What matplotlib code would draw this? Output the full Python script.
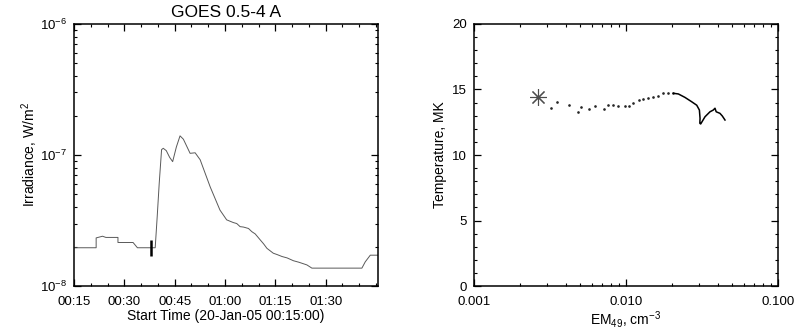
import numpy as np
import matplotlib
matplotlib.use("Agg")
import matplotlib.pyplot as plt
from matplotlib.ticker import FixedLocator, MultipleLocator, LogLocator, NullFormatter

plt.rcParams['font.family'] = ['Liberation Sans', 'DejaVu Sans']
plt.rcParams['mathtext.fontset'] = 'custom'
plt.rcParams['mathtext.rm'] = 'Liberation Sans'
plt.rcParams['mathtext.it'] = 'Liberation Sans:italic'

# GOES 0.5-4 A light curve, minutes after 00:15 UT
goes_min = [0, 6.6, 6.6, 8.5, 9.5, 13.1, 13.1, 17.6, 18.9, 24.2, 24.8, 25.4, 26.1, 26.6,
            27.5, 28.5, 29.4, 30.5, 31.6, 32.6, 34.6, 36.1, 37.6, 40.6, 43.5, 45.5,
            47.5, 48.5, 49.5, 50.5, 52.0, 53.0, 54.0, 55.5, 56.5, 57.5, 59.4, 60.5,
            62.0, 63.5, 65.4, 67.0, 69.4, 70.9, 85.8, 86.8, 88.3, 91.0]
goes_flux = [1.96e-8, 1.96e-8, 2.33e-8, 2.4e-8, 2.35e-8, 2.35e-8, 2.15e-8, 2.15e-8,
             1.96e-8, 1.96e-8, 3.4e-8, 6.1e-8, 1.1e-7, 1.125e-7, 1.08e-7, 9.6e-8,
             8.9e-8, 1.15e-7, 1.40e-7, 1.32e-7, 1.03e-7, 1.04e-7, 9.2e-8, 5.7e-8,
             3.8e-8, 3.2e-8, 3.05e-8, 3.0e-8, 2.84e-8, 2.82e-8, 2.75e-8, 2.6e-8,
             2.5e-8, 2.25e-8, 2.1e-8, 1.94e-8, 1.78e-8, 1.74e-8, 1.68e-8, 1.64e-8,
             1.56e-8, 1.52e-8, 1.45e-8, 1.37e-8, 1.37e-8, 1.53e-8, 1.72e-8, 1.72e-8]
start_min = 23.0
start_flux = 1.95e-8
time_ticks = [0, 15, 30, 45, 60, 75]
time_labels = ['00:15', '00:30', '00:45', '01:00', '01:15', '01:30']

# temperature vs emission measure
em_dots = [0.00321, 0.00353, 0.00422, 0.00481, 0.00506, 0.00571, 0.00625, 0.0072,
           0.00758, 0.00826, 0.0089, 0.00984, 0.0105, 0.0112, 0.0121, 0.013, 0.014,
           0.0151, 0.0163, 0.0176, 0.019, 0.0205]
temp_dots = [13.6, 14.05, 13.8, 13.3, 13.7, 13.5, 13.74, 13.5, 13.8, 13.84, 13.74,
             13.74, 13.74, 13.99, 14.2, 14.25, 14.33, 14.4, 14.5, 14.71, 14.71, 14.71]
em_line = [0.0205, 0.0221, 0.0244, 0.027, 0.0292, 0.0304, 0.0307, 0.0306, 0.031,
           0.0331, 0.0357, 0.0375, 0.0385, 0.0392, 0.0415, 0.043, 0.0448]
temp_line = [14.71, 14.66, 14.4, 14.07, 13.8, 13.43, 12.8, 12.42, 12.37, 12.92, 13.3,
             13.43, 13.57, 13.3, 13.18, 12.98, 12.67]
em_start = 0.00262
temp_start = 14.45

fig = plt.figure(figsize=(8, 3.33), dpi=100)
ax1 = fig.add_axes([0.0925, 0.141, 0.38, 0.787])
ax2 = fig.add_axes([0.5925, 0.141, 0.38, 0.787])

ax1.plot(goes_min, goes_flux, color='0.35', lw=0.7)
ax1.plot([start_min], [start_flux], marker='|', ms=11, mew=1.8, color='k', ls='none')
ax1.set_yscale('log')
ax1.set_ylim(1e-8, 1e-6)
ax1.set_xlim(0, 90.6)
ax1.xaxis.set_major_locator(FixedLocator(time_ticks))
ax1.set_xticklabels(time_labels)
ax1.xaxis.set_minor_locator(MultipleLocator(5))
ax1.yaxis.set_major_locator(FixedLocator([1e-8, 1e-7, 1e-6]))
ax1.set_yticklabels([r'$\mathregular{10^{-8}}$', r'$\mathregular{10^{-7}}$',
                     r'$\mathregular{10^{-6}}$'])
ax1.yaxis.set_minor_locator(LogLocator(base=10, subs=np.arange(2, 10)))
ax1.yaxis.set_minor_formatter(NullFormatter())
ax1.set_title('GOES 0.5-4 A', fontsize=12.5, pad=5)
ax1.set_xlabel('Start Time (20-Jan-05 00:15:00)', fontsize=10, labelpad=1)
ax1.set_ylabel(r'Irradiance, W/m$^2$', fontsize=10, labelpad=0)

ax2.plot(em_dots, temp_dots, ls='none', marker='o', ms=0.9, color='0.15')
ax2.plot(em_line, temp_line, color='k', lw=1.1)
ax2.plot([em_start], [temp_start], marker=(8, 2, 0), ms=12, mew=0.8, color='0.3', ls='none')
ax2.set_xscale('log')
ax2.set_xlim(0.001, 0.1)
ax2.set_ylim(0, 20)
ax2.xaxis.set_major_locator(FixedLocator([0.001, 0.01, 0.1]))
ax2.set_xticklabels(['0.001', '0.010', '0.100'])
ax2.xaxis.set_minor_locator(LogLocator(base=10, subs=np.arange(2, 10)))
ax2.xaxis.set_minor_formatter(NullFormatter())
ax2.yaxis.set_major_locator(MultipleLocator(5))
ax2.yaxis.set_minor_locator(MultipleLocator(1))
ax2.set_xlabel(r'EM$_{49}$, cm$^{-3}$', fontsize=10, labelpad=1)
ax2.set_ylabel('Temperature, MK', fontsize=10, labelpad=4)

for ax in (ax1, ax2):
    ax.tick_params(which='both', direction='in', top=True, right=True, labelsize=9.5)
    ax.tick_params(which='major', length=5, width=0.9)
    ax.tick_params(which='minor', length=2.5, width=0.8)
    ax.tick_params(axis='x', which='major', pad=7)
    ax.tick_params(axis='y', which='major', pad=5)
    for s in ax.spines.values():
        s.set_linewidth(1.1)

fig.savefig('out.png', dpi=100)
